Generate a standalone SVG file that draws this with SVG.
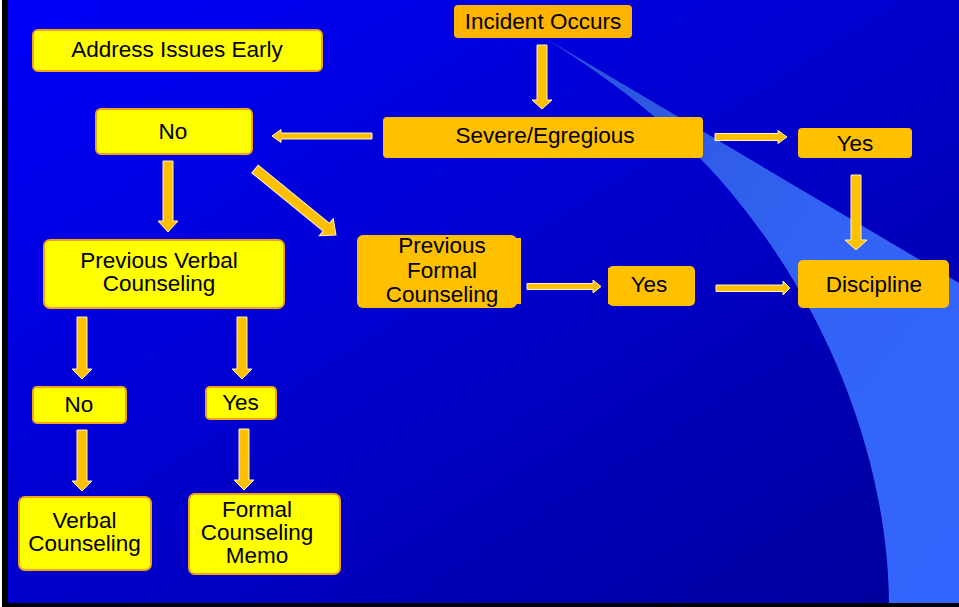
<svg xmlns="http://www.w3.org/2000/svg" width="959" height="607" viewBox="0 0 959 607">
<defs>
<linearGradient id="bg" x1="0" y1="0" x2="1" y2="1">
<stop offset="0" stop-color="#0000FA"/>
<stop offset="0.5" stop-color="#0000CC"/>
<stop offset="1" stop-color="#00009A"/>
</linearGradient>
<linearGradient id="sw" x1="0" y1="0" x2="1" y2="1">
<stop offset="0" stop-color="#2A52D8"/>
<stop offset="0.5" stop-color="#3363F4"/>
<stop offset="1" stop-color="#3366FF"/>
</linearGradient>
<style>
.y rect{fill:#FFFF00;stroke:#F2A418;stroke-width:2}
.o rect{fill:#FFC000}
text{font-family:"Liberation Sans",Arial,sans-serif;font-size:22.5px;fill:#000;text-anchor:middle}
.arr polygon{fill:#FFC000;stroke:#FFF3C8;stroke-width:1}
</style>
</defs>
<rect x="0" y="0" width="959" height="607" fill="#FFFFFF"/>
<rect x="8" y="0" width="951" height="603" fill="url(#bg)"/>
<path d="M545 38 L959 283 L959 603 L889 603 C888 470 835 320 737 200 C690 140 620 85 545 38 Z" fill="url(#sw)"/>
<rect x="2" y="0" width="6" height="606" fill="#000"/>
<rect x="2" y="603" width="957" height="4" fill="#000"/>

<g id="connectors" class="arr">
<polygon points="537,45 547,45 547,100 552,100 542,109 532,100 537,100"/>
<polygon points="372,133 372,139 281,139 281,142.5 272,136 281,129.5 281,133"/>
<polygon points="715,133.5 778,133.5 778,130.5 787,137 778,143.5 778,140.5 715,140.5"/>
<polygon points="851,175 861,175 861,240 867,240 856,250 845,240 851,240"/>
<polygon points="163,161 173,161 173,221 178,221 168,232 158,221 163,221"/>
<polygon transform="translate(255,169) rotate(39.2)" points="0,-5 92,-5 92,-11 104.5,0 92,11 92,5 0,5"/>
<polygon points="77,317 87,317 87,369 92,369 82,379 72,369 77,369"/>
<polygon points="237,317 247,317 247,369 252,369 242,379 232,369 237,369"/>
<polygon points="77,430 87,430 87,481 92,481 82,491 72,481 77,481"/>
<polygon points="239,429 249,429 249,480 254,480 244,490 234,480 239,480"/>
<polygon points="527,283.5 593,283.5 593,280 601,286.5 593,293 593,289.5 527,289.5"/>
<polygon points="716,285 783,285 783,281 790,288 783,295 783,291.5 716,291.5"/>
</g>

<g id="address" class="y"><rect x="33" y="30" width="289" height="41" rx="5"/><text x="177" y="57">Address Issues Early</text></g>
<g id="incident" class="o"><rect x="454" y="5" width="178" height="33" rx="4" style="fill:#FFB400"/><text x="543" y="29">Incident Occurs</text></g>
<g id="severe" class="o"><rect x="383" y="117" width="320" height="41" rx="4"/><text x="545" y="143">Severe/Egregious</text></g>
<g id="yes-top" class="o"><rect x="798" y="128" width="114" height="30" rx="4"/><text x="855" y="151">Yes</text></g>
<g id="no-top" class="y"><rect x="96" y="109" width="156" height="45" rx="5"/><text x="173" y="139">No</text></g>
<g id="prev-verbal" class="y"><rect x="44" y="240" width="240" height="68" rx="6"/><text x="159" y="268">Previous Verbal</text><text x="159" y="291">Counseling</text></g>
<g id="prev-formal" class="o"><rect x="357" y="235" width="160" height="73" rx="6"/><rect x="512" y="238" width="9" height="66"/><text x="442" y="253">Previous</text><text x="442" y="278">Formal</text><text x="442" y="302">Counseling</text></g>
<g id="yes-mid" class="o"><rect x="608" y="266" width="87" height="40" rx="5"/><rect x="608" y="268" width="6" height="36"/><text x="649" y="292">Yes</text></g>
<g id="discipline" class="o"><rect x="798" y="260" width="151" height="48" rx="5"/><text x="874" y="292">Discipline</text></g>
<g id="no-low" class="y"><rect x="33" y="387" width="93" height="36" rx="4"/><text x="79" y="412">No</text></g>
<g id="yes-low" class="y"><rect x="206" y="387" width="70" height="32" rx="4"/><text x="240.5" y="410">Yes</text></g>
<g id="verbal" class="y"><rect x="19" y="497" width="132" height="73" rx="6"/><text x="84.5" y="528">Verbal</text><text x="84.5" y="551">Counseling</text></g>
<g id="memo" class="y"><rect x="189" y="494" width="151" height="80" rx="6"/><text x="257" y="517">Formal</text><text x="257" y="540">Counseling</text><text x="257" y="563">Memo</text></g>
</svg>
